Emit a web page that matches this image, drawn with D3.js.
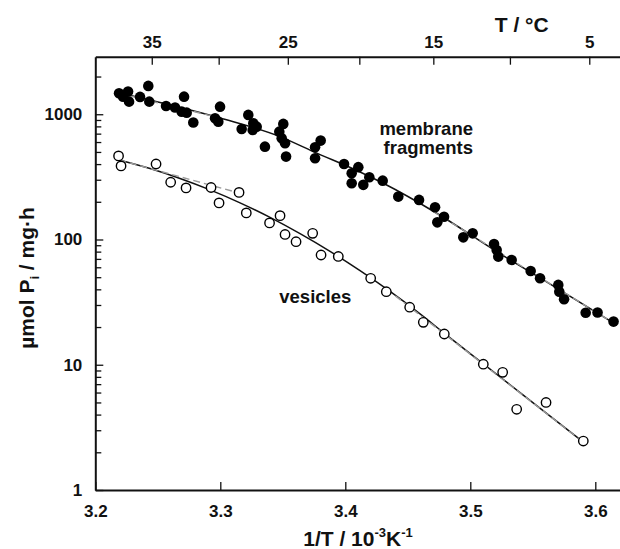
<!DOCTYPE html>
<html>
<head>
<meta charset="utf-8">
<script src="https://cdn.jsdelivr.net/npm/d3@7"></script>
<style>
  body { margin: 0; background: #fff; }
  svg { display: block; font-family: "Liberation Sans", Arial, sans-serif; font-weight: bold; }
  .axis path, .axis line { stroke: #111; }
  .axis text { fill: #111; font-size: 17px; font-weight: bold; font-family: "Liberation Sans", Arial, sans-serif; }
</style>
</head>
<body>
<svg id="chart" width="620" height="549"></svg>
<script>
// 膜断片 (membrane fragments) 1/T [10^-3 K^-1] と活性
var memInvT = [3.2190, 3.2222, 3.2262, 3.2270, 3.2358, 3.2424, 3.2432, 3.2566, 3.2638, 3.2710,
  3.2691, 3.2731, 3.2784, 3.2958, 3.2998, 3.2984, 3.3171, 3.3224, 3.3264, 3.3291,
  3.3259, 3.3357, 3.3472, 3.3504, 3.3491, 3.3518, 3.3526, 3.3758, 3.3803, 3.3758,
  3.3990, 3.4051, 3.4051, 3.4104, 3.4192, 3.4144, 3.4299, 3.4424, 3.4590, 3.4718,
  3.4790, 3.4736, 3.4944, 3.5019, 3.5190, 3.5211, 3.5224, 3.5331, 3.5483, 3.5558,
  3.5704, 3.5712, 3.5750, 3.5923, 3.6018, 3.6146];
var memRate = [1472, 1382, 1516, 1261, 1375, 1683, 1261, 1165, 1133, 1382,
  1049, 1030, 860, 929, 1150, 873, 763, 988, 848, 796,
  749, 551, 726, 837, 643, 587, 459, 545, 616, 445,
  401, 338, 281, 378, 314, 273, 295, 220, 207, 181,
  152, 137, 104, 112, 92, 82.5, 73, 68.6, 56, 49,
  43.4, 38.3, 33.3, 26, 26.1, 22.1];

// 小胞 (vesicles)
var vesInvT = [3.2186, 3.2206, 3.2486, 3.2603, 3.2726, 3.2926, 3.2990, 3.3150, 3.3208, 3.3394,
  3.3478, 3.3518, 3.3606, 3.3739, 3.3806, 3.3944, 3.4203, 3.4328, 3.4515, 3.4624,
  3.4792, 3.5104, 3.5259, 3.5371, 3.5606, 3.5904];
var vesRate = [465, 387, 401, 286.5, 258, 260, 196, 237.5, 163, 135.6,
  155, 109.7, 96, 112, 75.2, 73.2, 49, 38.3, 28.8, 21.8,
  17.6, 10.1, 8.7, 4.41, 5.0, 2.46];

// フィット曲線 (実線) - 図から読み取った点
var memFitX = [3.2178, 3.2998, 3.3478, 3.3744, 3.4118, 3.4304, 3.4731, 3.5211, 3.5451, 3.5718, 3.6171];
var memFitY = [1494, 934, 663, 503, 346, 281, 162, 80, 57.1, 39.5, 20.8];
var vesFitX = [3.2190, 3.2438, 3.2678, 3.2918, 3.3158, 3.3398, 3.3638, 3.3878, 3.4118, 3.4358,
  3.4598, 3.4790, 3.5102, 3.5398, 3.5902];
var vesFitY = [431.6, 368.6, 307.2, 249.1, 196.2, 150, 111.3, 80.4, 56.4, 38.5,
  25.5, 17.9, 10.2, 6.0, 2.42];

// 直線フィット (灰色の破線)
var memDashHiX = [3.2190, 3.2998];
var memDashHiY = [1472, 934];
var memDashLoX = [3.4700, 3.6171];
var memDashLoY = [168, 20.8];
var vesDashHiX = [3.2190, 3.3150];
var vesDashHiY = [431.6, 235];
var vesDashLoX = [3.4400, 3.5902];
var vesDashLoY = [35.5, 2.42];

// 目盛
var xTicks = [3.2, 3.3, 3.4, 3.5, 3.6];
var yMajor = [1, 10, 100, 1000];
var tempTicks = [35, 30, 25, 20, 15, 10, 5];
var tempLabels = [35, 25, 15, 5];

var svg = d3.select("#chart");

var x = d3.scaleLinear().domain([3.2, 3.62]).range([95.3, 620.3]);
var y = d3.scaleLog().domain([1, 2880]).range([490, 56.7]);

var zip = function(xs, ys){ return xs.map(function(v, i){ return [v, ys[i]]; }); };

// 線
var line = d3.line()
  .x(function(d){ return x(d[0]); })
  .y(function(d){ return y(d[1]); })
  .curve(d3.curveMonotoneX);

[[memFitX, memFitY], [vesFitX, vesFitY]].forEach(function(s){
  svg.append("path")
    .attr("d", line(zip(s[0], s[1])))
    .attr("fill", "none")
    .attr("stroke", "#111")
    .attr("stroke-width", 1.5);
});

var straight = d3.line()
  .x(function(d){ return x(d[0]); })
  .y(function(d){ return y(d[1]); });

[[memDashHiX, memDashHiY], [memDashLoX, memDashLoY], [vesDashHiX, vesDashHiY], [vesDashLoX, vesDashLoY]].forEach(function(s){
  svg.append("path")
    .attr("d", straight(zip(s[0], s[1])))
    .attr("fill", "none")
    .attr("stroke", "#9a9a9a")
    .attr("stroke-width", 1.4)
    .attr("stroke-dasharray", "7,4");
});

// データ点
svg.append("g").selectAll("circle")
  .data(zip(memInvT, memRate))
  .join("circle")
  .attr("cx", function(d){ return x(d[0]); })
  .attr("cy", function(d){ return y(d[1]); })
  .attr("r", 5.3)
  .attr("fill", "#000");

svg.append("g").selectAll("circle")
  .data(zip(vesInvT, vesRate))
  .join("circle")
  .attr("cx", function(d){ return x(d[0]); })
  .attr("cy", function(d){ return y(d[1]); })
  .attr("r", 4.7)
  .attr("fill", "#fff")
  .attr("stroke", "#000")
  .attr("stroke-width", 1.4);

// 下の軸
svg.append("g")
  .attr("class", "axis")
  .attr("transform", "translate(0," + 490 + ")")
  .call(d3.axisBottom(x).tickValues(xTicks).tickSize(-8).tickPadding(15).tickSizeOuter(0)
    .tickFormat(d3.format(".1f")))
  .call(function(g){ g.select(".domain").attr("stroke-width", 2); g.selectAll(".tick line").attr("stroke-width", 1.3); });

// 上の軸 (温度)
svg.append("g")
  .attr("class", "axis")
  .attr("transform", "translate(0," + 56.7 + ")")
  .call(d3.axisTop(x)
    .tickValues(tempTicks.map(function(t){ return 1000 / (t + 273.15); }))
    .tickSize(-8).tickPadding(8.5).tickSizeOuter(0)
    .tickFormat(function(d, i){
      var t = tempTicks[i];
      return tempLabels.indexOf(t) >= 0 ? t : "";
    }))
  .call(function(g){ g.select(".domain").attr("stroke-width", 2); g.selectAll(".tick line").attr("stroke-width", 1.3); });

// 左の軸 (対数)
var yMinor = [];
yMajor.forEach(function(p){
  for (var k = 2; k <= 9; k++){
    if (p * k <= 2880) yMinor.push(p * k);
  }
});

svg.append("g")
  .attr("class", "axis")
  .attr("transform", "translate(" + 95.3 + ",0)")
  .call(d3.axisLeft(y).tickValues(yMinor).tickSize(-6).tickFormat("").tickSizeOuter(0))
  .call(function(g){ g.select(".domain").remove(); g.selectAll(".tick line").attr("stroke-width", 1.3); });

svg.append("g")
  .attr("class", "axis")
  .attr("transform", "translate(" + 95.3 + ",0)")
  .call(d3.axisLeft(y).tickValues(yMajor).tickSize(-8).tickPadding(13).tickSizeOuter(0)
    .tickFormat(d3.format("d")))
  .call(function(g){ g.select(".domain").attr("stroke-width", 2); g.selectAll(".tick line").attr("stroke-width", 1.3); });

// 軸ラベル
svg.append("text")
  .attr("x", 521.7).attr("y", 32)
  .attr("text-anchor", "middle")
  .attr("font-size", 21)
  .attr("fill", "#111")
  .text("T / °C");

var xt = svg.append("text")
  .attr("x", 358).attr("y", 546)
  .attr("text-anchor", "middle")
  .attr("font-size", 21)
  .attr("fill", "#111");
xt.append("tspan").text("1/T / 10");
xt.append("tspan").attr("font-size", 13).attr("dy", -9).text("-3");
xt.append("tspan").attr("dy", 9).text("K");
xt.append("tspan").attr("font-size", 13).attr("dy", -9).text("-1");

var yt = svg.append("text")
  .attr("transform", "translate(34,278) rotate(-90)")
  .attr("text-anchor", "middle")
  .attr("font-size", 21)
  .attr("fill", "#111");
yt.append("tspan").text("µmol P");
yt.append("tspan").attr("font-size", 13).attr("dy", 5).text("i");
yt.append("tspan").attr("dy", -5).text(" / mg·h");

// 系列ラベル
svg.append("text")
  .attr("x", 473).attr("y", 135)
  .attr("text-anchor", "end")
  .attr("font-size", 18.5)
  .attr("fill", "#111")
  .text("membrane");
svg.append("text")
  .attr("x", 473).attr("y", 154)
  .attr("text-anchor", "end")
  .attr("font-size", 18.5)
  .attr("fill", "#111")
  .text("fragments");
svg.append("text")
  .attr("x", 279.3).attr("y", 302.5)
  .attr("font-size", 18.5)
  .attr("fill", "#111")
  .text("vesicles");
</script>
</body>
</html>
